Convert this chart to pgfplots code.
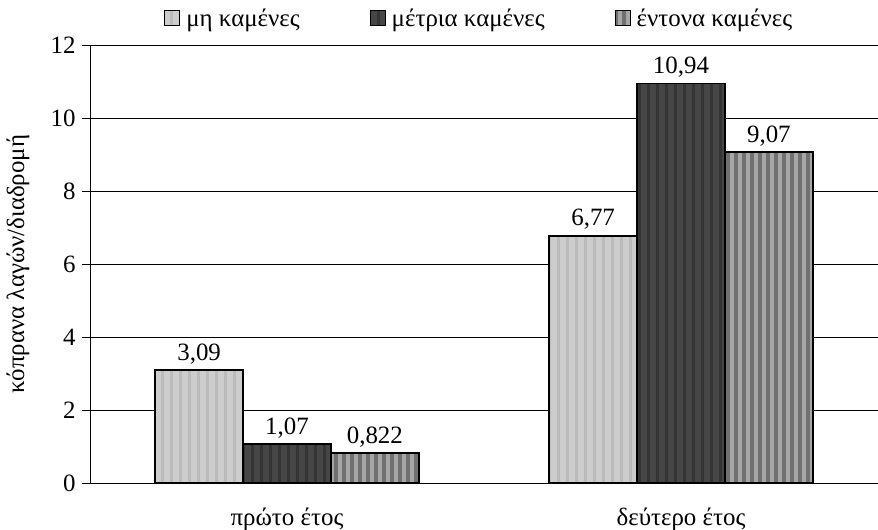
\documentclass[border=0pt]{standalone}
\usepackage{pgfplots}
\pgfplotsset{compat=1.18}
\usepackage{pgfplotstable}
\usepackage{fontspec}
\setmainfont{Liberation Serif}
\usetikzlibrary{patterns.meta}
\definecolor{cA}{HTML}{CDCDCD}
\definecolor{cAs}{HTML}{BBBBBB}
\definecolor{cB}{HTML}{464646}
\definecolor{cBs}{HTML}{343434}
\definecolor{cC}{HTML}{A6A6A6}
\definecolor{cCs}{HTML}{707070}
\pgfplotstableread{
x y l
0 3.09 {3,09}
1 6.77 {6,77}
}\tA
\pgfplotstableread{
x y l
0 1.07 {1,07}
1 10.94 {10,94}
}\tB
\pgfplotstableread{
x y l
0 0.822 {0,822}
1 9.07 {9,07}
}\tC
\begin{document}
\begin{tikzpicture}
\useasboundingbox (-90bp,-47bp) rectangle (788bp,483bp);
\begin{axis}[
  at={(0,0)}, anchor=south west,
  scale only axis, width=788bp, height=438bp,
  font=\fontsize{25}{30}\selectfont,
  /pgf/number format/assume math mode=true,
  axis lines*=left,
  axis line style={black, line width=0.8bp},
  xmin=-0.5, xmax=1.5, ymin=0, ymax=12,
  ytick={0,2,...,12},
  ymajorgrids, grid style={black, line width=0.8bp},
  tick align=outside, major tick length=8bp,
  tick style={black, line width=0.8bp},
  yticklabel style={xshift=-3bp},
  xtick={0,1}, xticklabels={πρώτο έτος, δεύτερο έτος},
  xtick style={draw=none},
  xticklabel style={anchor=north, yshift=-13bp},
  extra x ticks={-0.5,0.5}, extra x tick labels={},
  extra x tick style={grid=none, tick style={draw=black, line width=0.8bp}, major tick length=8bp},
  ylabel={κόπρανα λαγών/διαδρομή},
  ylabel style={at={(axis description cs:-0.0914,0.5)}, anchor=center},
  ybar, bar width=0.223,
  point meta=explicit symbolic,
  nodes near coords,
  nodes near coords style={font=\fontsize{25}{30}\selectfont, anchor=south, yshift=2bp},
  legend columns=3,
  legend style={at={(0.494,1.0616)}, anchor=center, draw=none, fill=none,
    font=\fontsize{25}{30}\selectfont,
    /tikz/every even column/.append style={column sep=68bp},
    /tikz/every odd column/.append style={column sep=4bp}},
  legend image code/.code={\draw[#1,draw=black,line width=1bp] (0bp,-7.5bp) rectangle (15bp,7.5bp);},
]
\addplot[bar shift=-0.223, draw=black, line width=1.5bp, fill=cA,
  postaction={pattern={Lines[angle=90,distance=9bp,line width=3bp]}, pattern color=cAs}]
  table[x=x,y=y,meta=l] {\tA};
\addplot[bar shift=0, draw=black, line width=1.5bp, fill=cB,
  postaction={pattern={Lines[angle=90,distance=9bp,line width=3bp]}, pattern color=cBs}]
  table[x=x,y=y,meta=l] {\tB};
\addplot[bar shift=0.223, draw=black, line width=1.5bp, fill=cC,
  postaction={pattern={Lines[angle=90,distance=8bp,line width=4bp]}, pattern color=cCs}]
  table[x=x,y=y,meta=l] {\tC};
\legend{μη καμένες, μέτρια καμένες, έντονα καμένες}
\end{axis}
\end{tikzpicture}
\end{document}
